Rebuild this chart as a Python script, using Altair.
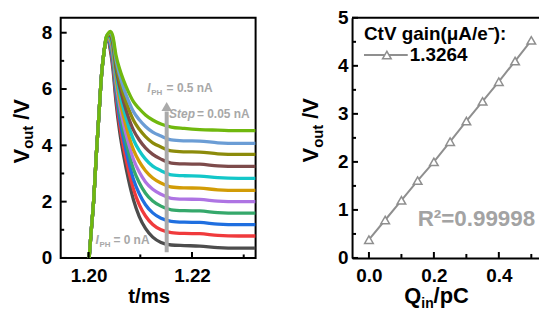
import altair as alt
import pandas as pd

FONT = "Liberation Sans"

# ---------------- data: left panel (transient curves) ----------------
T = [1.2001, 1.2005, 1.2010, 1.2015, 1.2020, 1.2025, 1.2030, 1.2034, 1.2038, 1.2042,
     1.2047, 1.2053, 1.2060, 1.2068, 1.2077, 1.2087, 1.2098, 1.2110, 1.2124, 1.2140,
     1.2160, 1.2185, 1.2215, 1.2250, 1.2290, 1.2323]

I_LABELS = ["0.00", "0.05", "0.10", "0.15", "0.20", "0.25", "0.30", "0.35", "0.40", "0.45", "0.50"]

C00 = [0.0, 0.95, 2.1, 3.7, 5.1, 6.5, 7.35, 7.70, 7.72, 7.38, 6.71, 5.53, 4.49, 3.61, 2.79, 2.05, 1.47, 1.05, 0.74, 0.55, 0.46, 0.44, 0.42, 0.37, 0.35, 0.35]
C05 = [0.0, 0.95, 2.1, 3.7, 5.1, 6.5, 7.35, 7.71, 7.75, 7.47, 6.86, 5.72, 4.74, 3.90, 3.13, 2.43, 1.89, 1.49, 1.19, 1.00, 0.90, 0.87, 0.86, 0.80, 0.78, 0.78]
C10 = [0.0, 0.95, 2.1, 3.7, 5.1, 6.5, 7.35, 7.73, 7.77, 7.54, 7.00, 5.90, 4.97, 4.18, 3.45, 2.78, 2.28, 1.89, 1.60, 1.41, 1.30, 1.27, 1.26, 1.20, 1.18, 1.18]
C15 = [0.0, 0.95, 2.1, 3.7, 5.1, 6.5, 7.35, 7.75, 7.80, 7.62, 7.13, 6.08, 5.20, 4.45, 3.77, 3.14, 2.67, 2.30, 2.02, 1.84, 1.71, 1.68, 1.67, 1.61, 1.59, 1.59]
C20 = [0.0, 0.95, 2.1, 3.7, 5.1, 6.5, 7.35, 7.76, 7.82, 7.69, 7.26, 6.25, 5.43, 4.72, 4.08, 3.49, 3.05, 2.70, 2.44, 2.26, 2.12, 2.09, 2.08, 2.02, 2.00, 2.00]
C25 = [0.0, 0.95, 2.1, 3.7, 5.1, 6.5, 7.35, 7.78, 7.85, 7.76, 7.38, 6.42, 5.65, 4.99, 4.38, 3.83, 3.42, 3.10, 2.84, 2.66, 2.52, 2.49, 2.48, 2.42, 2.40, 2.40]
C30 = [0.0, 0.95, 2.1, 3.7, 5.1, 6.5, 7.35, 7.79, 7.88, 7.83, 7.49, 6.58, 5.87, 5.26, 4.70, 4.19, 3.81, 3.51, 3.26, 3.10, 2.95, 2.92, 2.91, 2.85, 2.83, 2.83]
C35 = [0.0, 0.95, 2.1, 3.7, 5.1, 6.5, 7.35, 7.81, 7.91, 7.89, 7.60, 6.74, 6.09, 5.52, 5.00, 4.53, 4.19, 3.91, 3.68, 3.51, 3.37, 3.34, 3.33, 3.27, 3.25, 3.25]
C40 = [0.0, 0.95, 2.1, 3.7, 5.1, 6.5, 7.35, 7.82, 7.93, 7.95, 7.70, 6.90, 6.30, 5.78, 5.31, 4.88, 4.57, 4.31, 4.09, 3.94, 3.80, 3.77, 3.76, 3.70, 3.68, 3.68]
C45 = [0.0, 0.95, 2.1, 3.7, 5.1, 6.5, 7.35, 7.84, 7.96, 8.00, 7.79, 7.05, 6.50, 6.02, 5.59, 5.19, 4.91, 4.67, 4.47, 4.33, 4.19, 4.16, 4.15, 4.09, 4.07, 4.07]
C50 = [0.0, 0.95, 2.1, 3.7, 5.1, 6.5, 7.35, 7.85, 7.98, 8.05, 7.87, 7.20, 6.71, 6.29, 5.90, 5.54, 5.30, 5.08, 4.90, 4.76, 4.65, 4.60, 4.56, 4.54, 4.52, 4.52]

CURVES = [C00, C05, C10, C15, C20, C25, C30, C35, C40, C45, C50]
COLORS = ["#4d4d4d", "#f03a3c", "#1f6fe0", "#35a86b", "#ae74e3", "#d29c06",
          "#13c7c9", "#7d4b4b", "#8c8b0b", "#6b9dd5", "#70b80e"]

# arrow annotation (data coordinates)
ARROW_T = [1.2151]
ARROW_Y0 = [0.2]
ARROW_Y1 = [5.2]
ARROW_HEAD = [5.38]

# ---------------- data: right panel (CtV gain) ----------------
Q = [0.00, 0.05, 0.10, 0.15, 0.20, 0.25, 0.30, 0.35, 0.40, 0.45, 0.50]
VQ = [0.38, 0.79, 1.20, 1.61, 2.00, 2.42, 2.85, 3.26, 3.67, 4.10, 4.53]

# tick values
XL_MAJOR = [1.20, 1.22]
XL_MINOR = [1.21, 1.23]
YL_MAJOR = [0, 2, 4, 6, 8]
YL_MINOR = [1, 3, 5, 7]
XR_MAJOR = [0.0, 0.2, 0.4]
XR_MINOR = [0.1, 0.3, 0.5]
YR_MAJOR = [0, 1, 2, 3, 4, 5]
YR_MINOR = [0.5, 1.5, 2.5, 3.5, 4.5]

WL, HL = 196, 241.5
WR, HR = 193, 241.5

ONE = alt.Data(values=[{"a": 1}])
GRAY_T = "#a8a8a8"


def txt(s, x, y, size, color="black", angle=0, italic=False, align="left", baseline="alphabetic"):
    kw = dict(text=s, fontSize=size, font=FONT, fontWeight="bold", color=color,
              align=align, baseline=baseline)
    if angle:
        kw["angle"] = angle
    if italic:
        kw["fontStyle"] = "italic"
    return alt.Chart(ONE).mark_text(**kw).encode(x=alt.value(x), y=alt.value(y))


def axis(values, fmt, pad, domain=False):
    kw = dict(values=values, format=fmt, title=None, ticks=False, tickSize=0, grid=False,
              labelFont=FONT, labelFontSize=19, labelFontWeight="bold", labelColor="black",
              labelPadding=pad, labelFlush=False, labelOverlap=False)
    if domain:
        kw.update(domain=True, domainColor="black", domainWidth=2)
    else:
        kw["domain"] = False
    return alt.Axis(**kw)


# ---------------- left panel ----------------
xl = alt.Scale(domain=[1.1946, 1.2323], nice=False, zero=False)
yl = alt.Scale(domain=[0, 8.53], nice=False, zero=False)
AXL = axis(XL_MAJOR, ".2f", 9)
AYL = axis(YL_MAJOR, "d", 9)


def XL(f):
    return alt.X(f, scale=xl, axis=AXL)


def YL(f):
    return alt.Y(f, scale=yl, axis=AYL)


left_layers = []
for lab, vals, col in zip(I_LABELS, CURVES, COLORS):
    d = pd.DataFrame({"t": T, "v": vals})
    left_layers.append(
        alt.Chart(d).mark_line(color=col, strokeWidth=3.3, interpolate="monotone", clip=True)
        .encode(x=XL("t:Q"), y=YL("v:Q"))
    )


def ticks_x(vals, X, length, h):
    return alt.Chart(pd.DataFrame({"t": vals})).mark_rule(color="black", strokeWidth=2).encode(
        x=X("t:Q"), y=alt.value(h), y2=alt.value(h - length))


def ticks_y(vals, Y, length):
    return alt.Chart(pd.DataFrame({"v": vals})).mark_rule(color="black", strokeWidth=2).encode(
        y=Y("v:Q"), x=alt.value(0), x2=alt.value(length))


left_layers += [
    ticks_x(XL_MAJOR, XL, 6, HL), ticks_x(XL_MINOR, XL, 3.5, HL),
    ticks_y(YL_MAJOR, YL, 6), ticks_y(YL_MINOR, YL, 3.5),
]

arrow_df = pd.DataFrame({"t": ARROW_T, "v": ARROW_Y0, "v2": ARROW_Y1, "vh": ARROW_HEAD})
left_layers.append(
    alt.Chart(arrow_df).mark_rule(color="#aaaaaa", strokeWidth=4).encode(
        x=XL("t:Q"), y=YL("v:Q"), y2="v2:Q")
)
left_layers.append(
    alt.Chart(arrow_df).mark_point(shape="triangle-up", filled=True, size=110, color="#aaaaaa",
                                   opacity=1).encode(x=XL("t:Q"), y=YL("vh:Q"))
)

# annotations
left_layers += [
    txt("I", 87, 74.5, 12, GRAY_T, italic=True),
    txt("PH", 91, 77.5, 8, GRAY_T),
    txt("= 0.5 nA", 106.5, 74.5, 12, GRAY_T),
    txt("Step", 109, 100.5, 12, GRAY_T, italic=True),
    txt("= 0.05 nA", 137, 100.5, 12, GRAY_T),
    txt("I", 35, 227.5, 12, GRAY_T, italic=True),
    txt("PH", 39, 230.5, 8, GRAY_T),
    txt("= 0 nA", 53, 227.5, 12, GRAY_T),
]
# axis titles
left_layers += [
    txt("t/ms", 89, 287, 20.5, align="center"),
    txt("V", -32, 146.5, 22, angle=270),
    txt("out", -27.5, 131.8, 15, angle=270),
    txt("/V", -32, 102.5, 22, angle=270),
]

left = alt.layer(*left_layers).properties(
    width=WL, height=HL, view=alt.ViewBackground(stroke="black", strokeWidth=2))

# ---------------- right panel ----------------
xr = alt.Scale(domain=[-0.052, 0.539], nice=False, zero=False)
yr = alt.Scale(domain=[0, 5], nice=False, zero=False)
AXR = axis(XR_MAJOR, ".1f", 9, domain=True)
AYR = axis(YR_MAJOR, "d", 4, domain=True)


def XR(f):
    return alt.X(f, scale=xr, axis=AXR)


def YR(f):
    return alt.Y(f, scale=yr, axis=AYR)


qdf = pd.DataFrame({"t": Q, "v": VQ})
LINE_GRAY = "#8f8f8f"
right_layers = [
    alt.Chart(qdf).mark_line(color=LINE_GRAY, strokeWidth=2).encode(x=XR("t:Q"), y=YR("v:Q")),
    alt.Chart(qdf).mark_point(shape="triangle-up", filled=True, fill="white", stroke=LINE_GRAY,
                              strokeWidth=1.5, size=75, opacity=1).encode(x=XR("t:Q"), y=YR("v:Q")),
    ticks_x(XR_MAJOR, XR, 6, HR), ticks_x(XR_MINOR, XR, 4, HR),
    ticks_y(YR_MAJOR, YR, 6), ticks_y(YR_MINOR, YR, 4),
    # top frame line
    alt.Chart(ONE).mark_rule(color="black", strokeWidth=2).encode(
        x=alt.value(0), x2=alt.value(WR), y=alt.value(0)),
    # legend
    alt.Chart(ONE).mark_rule(color=LINE_GRAY, strokeWidth=2).encode(
        x=alt.value(12), x2=alt.value(56), y=alt.value(37.5)),
    alt.Chart(ONE).mark_point(shape="triangle-up", filled=True, fill="white", stroke=LINE_GRAY,
                              strokeWidth=1.5, size=75, opacity=1).encode(
        x=alt.value(35), y=alt.value(37.5)),
    txt("CtV gain(μA/e⁻):", 12, 22.5, 19),
    txt("1.3264", 58, 43.5, 19),
    txt("R²=0.99998", 66, 209.5, 22.5, "#a3a3a3"),
    # axis titles
    txt("Q", 52.5, 287, 22),
    txt("in", 69.6, 291.5, 14),
    txt("/pC", 82, 287, 22),
    txt("V", -34, 145.5, 22, angle=270),
    txt("out", -29.5, 130.8, 15, angle=270),
    txt("/V", -34, 101.5, 22, angle=270),
]

right = alt.layer(*right_layers).properties(
    width=WR, height=HR, view=alt.ViewBackground(stroke="transparent", strokeWidth=0))

chart = alt.hconcat(left, right, spacing=44).properties(
    padding={"left": 2, "top": 0, "right": -6, "bottom": 0},
    background="white",
)

chart.save("out.html", embed_options={"renderer": "svg", "actions": False})
